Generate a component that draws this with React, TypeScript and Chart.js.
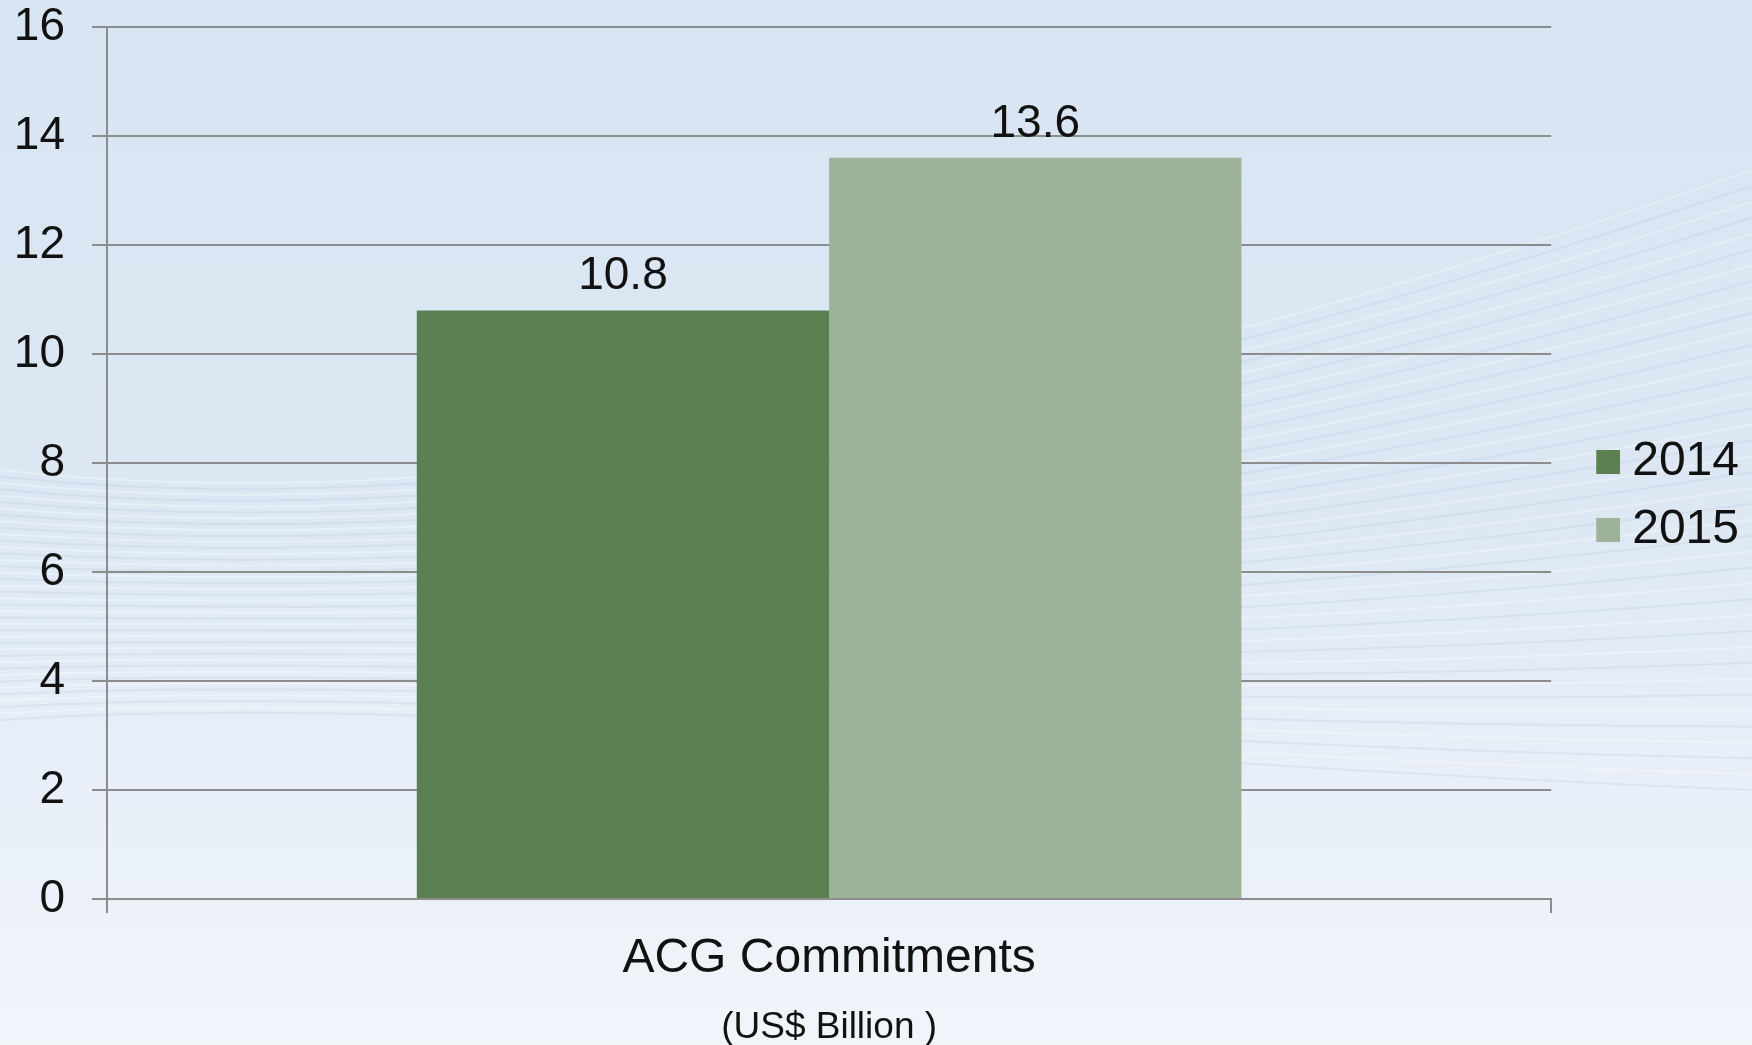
import React, { useEffect, useRef } from "react";
import { Chart, registerables } from "chart.js";

Chart.register(...registerables);

const categories = ["ACG Commitments"];
const seriesNames = ["2014", "2015"];
const values2014 = [10.8];
const values2015 = [13.6];
const seriesColors = ["#5b8153", "#9db399"];
const yMin = 0;
const yMax = 16;
const yStep = 2;
const xAxisTitle = "(US$ Billion )";

const FONT = '"Liberation Sans", Arial, sans-serif';

function makeSwatch(color: string): HTMLCanvasElement {
  const c = document.createElement("canvas");
  c.width = 61;
  c.height = 24;
  const g = c.getContext("2d")!;
  g.fillStyle = color;
  g.fillRect(37, 0, 24, 24);
  return c;
}

const backgroundPlugin = {
  id: "bgWaves",
  beforeDraw(chart: any) {
    const { ctx, width, height } = chart;
    ctx.save();
    const grad = ctx.createLinearGradient(0, 0, 0, height);
    grad.addColorStop(0, "#d8e5f2");
    grad.addColorStop(0.45, "#dce7f3");
    grad.addColorStop(0.75, "#e8eff8");
    grad.addColorStop(1, "#f1f5fa");
    ctx.fillStyle = grad;
    ctx.fillRect(0, 0, width, height);
    const n = 40;
    for (let i = 0; i < n; i++) {
      const t = i / (n - 1);
      const yl = 470 + t * 250;
      const yr = 170 + t * 620;
      ctx.beginPath();
      ctx.moveTo(0, yl);
      ctx.bezierCurveTo(450, 520 + t * 170, 1000, 430 + t * 330, width, yr);
      ctx.lineWidth = 2;
      ctx.strokeStyle = i % 2 === 0 ? "rgba(255,255,255,0.30)" : "rgba(150,180,212,0.16)";
      ctx.stroke();
    }
    ctx.restore();
  },
};

const valueLabelPlugin = {
  id: "valueLabels",
  afterDatasetsDraw(chart: any) {
    const { ctx } = chart;
    ctx.save();
    ctx.font = `46px ${FONT}`;
    ctx.fillStyle = "#111111";
    ctx.textAlign = "center";
    ctx.textBaseline = "alphabetic";
    chart.data.datasets.forEach((ds: any, di: number) => {
      const meta = chart.getDatasetMeta(di);
      meta.data.forEach((bar: any, i: number) => {
        const v = ds.data[i];
        ctx.fillText(Number(v).toFixed(1), bar.x, bar.y - 21);
      });
    });
    ctx.restore();
  },
};

export default function App() {
  const canvasRef = useRef<HTMLCanvasElement | null>(null);

  useEffect(() => {
    document.body.style.margin = "0";
    const canvas = canvasRef.current;
    if (!canvas) return;
    Chart.defaults.font.family = FONT;
    const swatches = seriesColors.map(makeSwatch);

    const chart = new Chart(canvas, {
      type: "bar",
      data: {
        labels: categories,
        datasets: [
          {
            label: seriesNames[0],
            data: values2014,
            backgroundColor: seriesColors[0],
            borderWidth: 0,
            categoryPercentage: 0.571,
            barPercentage: 1.0,
          },
          {
            label: seriesNames[1],
            data: values2015,
            backgroundColor: seriesColors[1],
            borderWidth: 0,
            categoryPercentage: 0.571,
            barPercentage: 1.0,
          },
        ],
      },
      options: {
        responsive: false,
        maintainAspectRatio: false,
        devicePixelRatio: 1,
        animation: false,
        layout: { padding: { top: 27, right: 3, bottom: 0, left: 0 } },
        plugins: {
          tooltip: { enabled: false },
          legend: {
            position: "right",
            align: "center",
            fullSize: false,
            title: {
              display: true,
              text: " ",
              font: { size: 10, lineHeight: 1.2 },
              padding: { top: 53, bottom: 0 },
            },
            labels: {
              usePointStyle: true,
              pointStyleWidth: 37,
              boxHeight: 24,
              padding: 20,
              color: "#111111",
              font: { size: 48, family: FONT },
              generateLabels: (ch: any) =>
                (Chart.defaults.plugins.legend.labels.generateLabels as any)(ch).map(
                  (l: any, i: number) => ({ ...l, pointStyle: swatches[i], lineWidth: 0 })
                ),
            },
          },
        },
        scales: {
          x: {
            type: "category",
            offset: true,
            grid: {
              display: true,
              drawOnChartArea: false,
              drawTicks: true,
              tickLength: 14,
              color: "#8c8c8c",
              lineWidth: 2,
              offset: true,
            },
            border: { display: true, color: "#8c8c8c", width: 2 },
            ticks: { color: "#111111", font: { size: 48, family: FONT }, padding: 17 },
            title: {
              display: true,
              text: xAxisTitle,
              color: "#111111",
              font: { size: 37, family: FONT, lineHeight: 0.95 },
              padding: { top: 0, bottom: 0 },
            },
            afterFit: (s: any) => {
              s.height = 146;
              s.paddingLeft = 0;
              s.paddingRight = 0;
            },
          },
          y: {
            min: yMin,
            max: yMax,
            ticks: {
              stepSize: yStep,
              color: "#111111",
              font: { size: 46, family: FONT, lineHeight: 1 },
              padding: 27,
            },
            grid: { color: "#8c8c8c", lineWidth: 2, tickLength: 15, drawTicks: true },
            border: { display: true, color: "#8c8c8c", width: 2 },
            afterFit: (s: any) => {
              s.width = 107;
              s.paddingTop = 0;
              s.paddingBottom = 0;
            },
          },
        },
      },
      plugins: [backgroundPlugin, valueLabelPlugin],
    } as any);

    return () => chart.destroy();
  }, []);

  return (
    <canvas
      ref={canvasRef}
      width={1752}
      height={1045}
      style={{ display: "block", width: 1752, height: 1045 }}
    />
  );
}
